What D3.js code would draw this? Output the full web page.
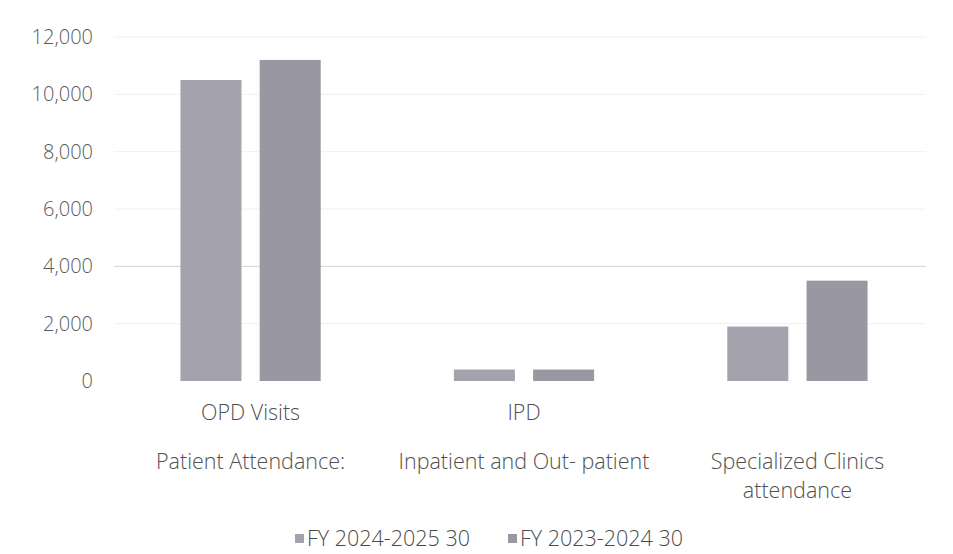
<!DOCTYPE html>
<html>
<head>
<meta charset="utf-8">
<script src="https://cdn.jsdelivr.net/npm/d3@7"></script>
<style>
  html, body { margin: 0; padding: 0; background: #ffffff; }
  svg { display: block; }
  text { font-family: "Open Sans", sans-serif; font-weight: 300; }
</style>
</head>
<body>
<svg id="chart" width="953" height="554"></svg>
<script>
// ---- data ----
const categories = ["OPD", "IPD", "Specialized"];
const labelLine1 = ["OPD Visits", "IPD", ""];
const labelLine2 = ["Patient Attendance:", "Inpatient and Out- patient", "Specialized Clinics"];
const labelLine3 = ["", "", "attendance"];
const seriesNames = ["FY 2024-2025 30", "FY 2023-2024 30"];
const fy2425 = [10500, 400, 1900];
const fy2324 = [11200, 400, 3500];
const yTicks = [0, 2000, 4000, 6000, 8000, 10000, 12000];

(function () {
// ---- layout ----
const svg = d3.select("#chart");
const mLeft = 114, mRight = 934, mTop = 37, mBottom = 381;
const colors = ["#a3a2ad", "#9897a2"];

const x0 = d3.scaleBand().domain(categories).range([mLeft, mRight]).paddingInner(0.487).paddingOuter(0.243);
const x1 = d3.scaleBand().domain(seriesNames).range([0, x0.bandwidth()]).paddingInner(0.23);
const y = d3.scaleLinear().domain([0, 12000]).range([mBottom, mTop]);

// gridlines
svg.append("g").selectAll("line").data(yTicks.filter(d => d > 0)).join("line")
  .attr("x1", mLeft).attr("x2", mRight - 8)
  .attr("y1", d => y(d)).attr("y2", d => y(d))
  .attr("stroke", d => d === 4000 ? "#d3d3d3" : "#f0f0f0")
  .attr("stroke-width", 1);

// y axis labels
const yAxis = d3.axisLeft(y).tickValues(yTicks).tickFormat(d3.format(",")).tickSize(0).tickPadding(0);
const ya = svg.append("g").attr("transform", `translate(93,0)`).call(yAxis);
ya.select(".domain").remove();
ya.selectAll("text").attr("font-size", 20).attr("fill", "#5a5a5a")
  .style("font-family", "'Open Sans', sans-serif").style("font-weight", 300);

// bars
const series = [fy2425, fy2324];
const g = svg.append("g");
categories.forEach((c, i) => {
  series.forEach((s, j) => {
    g.append("rect")
      .attr("x", x0(c) + x1(seriesNames[j]))
      .attr("y", y(s[i]))
      .attr("width", x1.bandwidth())
      .attr("height", y(0) - y(s[i]))
      .attr("fill", colors[j]);
  });
});

// category labels
const lab = svg.append("g").attr("font-size", 21.5).attr("fill", "#505050").attr("text-anchor", "middle");
categories.forEach((c, i) => {
  const cx = x0(c) + x0.bandwidth() / 2;
  lab.append("text").attr("x", cx).attr("y", 420).text(labelLine1[i]);
  lab.append("text").attr("x", cx).attr("y", 469).text(labelLine2[i]);
  lab.append("text").attr("x", cx).attr("y", 498).text(labelLine3[i]);
});

// legend
const legend = svg.append("g").attr("font-size", 21.5).attr("fill", "#4a4a4a");
const legX = [295, 508];
seriesNames.forEach((n, j) => {
  legend.append("rect").attr("x", legX[j]).attr("y", 534).attr("width", 9).attr("height", 9).attr("fill", colors[j]);
  legend.append("text").attr("x", legX[j] + 12).attr("y", 546).text(n);
});
})();
</script>
</body>
</html>
